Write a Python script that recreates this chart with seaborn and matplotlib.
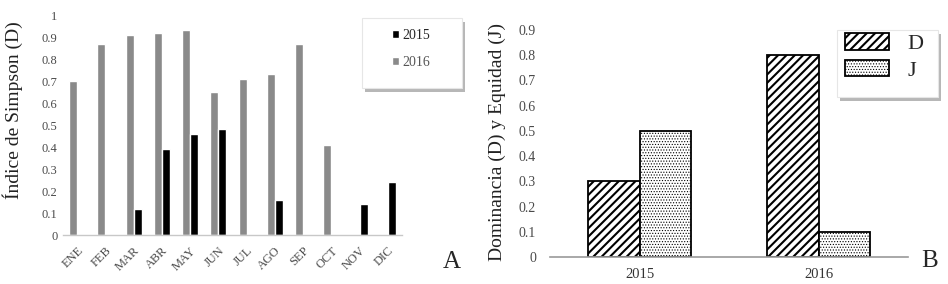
import matplotlib
matplotlib.use("Agg")
import matplotlib.pyplot as plt
import matplotlib.patheffects as pe
from matplotlib.patches import Rectangle, Patch
import numpy as np
import pandas as pd
import seaborn as sns

# datos panel A: indice de Simpson por mes
meses = ["ENE", "FEB", "MAR", "ABR", "MAY", "JUN", "JUL", "AGO", "SEP", "OCT", "NOV", "DIC"]
simpson_2015 = [0, 0, 0.12, 0.39, 0.46, 0.48, 0, 0.16, 0, 0, 0.14, 0.24]
simpson_2016 = [0.70, 0.87, 0.91, 0.92, 0.93, 0.65, 0.71, 0.73, 0.87, 0.41, 0, 0]
anios_a = ["2015", "2016"]
yticks_a = [0, 0.1, 0.2, 0.3, 0.4, 0.5, 0.6, 0.7, 0.8, 0.9, 1]

# datos panel B: dominancia y equidad por anio
anios_b = ["2015", "2016"]
dominancia = [0.30, 0.80]
equidad = [0.50, 0.10]
yticks_b = [0, 0.1, 0.2, 0.3, 0.4, 0.5, 0.6, 0.7, 0.8, 0.9]

sns.set_style("white")
plt.rcParams["font.family"] = ["Liberation Serif", "DejaVu Serif"]
plt.rcParams["hatch.linewidth"] = 1.0

gris = "#8a8a8a"
tick_col = "#4a4a4a"
tramas = {"D": "////", "J": "......"}
grosor_trama = {"D": 1.5, "J": 0.5}


def poner_trama(p, ind):
    p.set_hatch(tramas[ind])
    if hasattr(p, "set_hatch_linewidth"):
        p.set_hatch_linewidth(grosor_trama[ind])
    else:
        p._hatch_linewidth = grosor_trama[ind]


df_a = pd.DataFrame({
    "mes": meses * 2,
    "anio": ["2015"] * 12 + ["2016"] * 12,
    "valor": simpson_2015 + simpson_2016,
})
df_b = pd.DataFrame({
    "anio": anios_b * 2,
    "indice": ["D"] * 2 + ["J"] * 2,
    "valor": dominancia + equidad,
})

fig = plt.figure(figsize=(9.48, 2.84), dpi=100)

# ---- panel A ----
axA = fig.add_axes([63 / 948, 49 / 284, 339 / 948, 220 / 284])
sns.barplot(data=df_a, x="mes", y="valor", hue="anio", hue_order=["2016", "2015"],
            palette={"2015": "black", "2016": gris}, width=0.56, saturation=1,
            errorbar=None, legend=False, ax=axA)
axA.set_ylim(0, 1)
axA.set_xlim(-0.5, 11.5)
axA.set_yticks(yticks_a)
axA.set_yticklabels([f"{t:g}" for t in yticks_a])
axA.tick_params(axis="y", length=0, pad=4, labelsize=9, labelcolor=tick_col)
axA.tick_params(axis="x", length=0, pad=7, labelsize=9, labelcolor=tick_col)
for lab in axA.get_xticklabels():
    lab.set_rotation(45)
    lab.set_ha("right")
    lab.set_va("top")
    lab.set_rotation_mode("anchor")
for s in ["left", "right", "top"]:
    axA.spines[s].set_visible(False)
axA.spines["bottom"].set_color("#c8c8c8")
axA.spines["bottom"].set_linewidth(1)
axA.set_xlabel("")
axA.set_ylabel("Índice de Simpson (D)", fontsize=14, color="#222222")
axA.yaxis.set_label_coords(-0.147, 0.568)
axA.yaxis.label.set_va("center")

# ---- panel B ----
axB = fig.add_axes([550 / 948, 27 / 284, 358 / 948, 227 / 284])
sns.barplot(data=df_b, x="anio", y="valor", hue="indice",
            palette={"D": "white", "J": "white"}, width=0.575, saturation=1,
            edgecolor="black", linewidth=1.3, errorbar=None, legend=False, ax=axB)
for cont, ind in zip(axB.containers, ["D", "J"]):
    for barra in cont:
        poner_trama(barra, ind)
axB.set_ylim(0, 0.9)
axB.set_xlim(-0.5, 1.5)
axB.set_yticks(yticks_b)
axB.set_yticklabels([f"{t:g}" for t in yticks_b])
axB.tick_params(axis="y", length=0, pad=10, labelsize=10, labelcolor=tick_col)
axB.tick_params(axis="x", length=0, pad=8, labelsize=10.5, labelcolor="#333333")
for s in ["left", "right", "top"]:
    axB.spines[s].set_visible(False)
axB.spines["bottom"].set_color("#9a9a9a")
axB.spines["bottom"].set_linewidth(1.2)
axB.set_xlabel("")
axB.set_ylabel("Dominancia (D) y Equidad (J)", fontsize=14, color="#222222")
axB.yaxis.set_label_coords(-0.148, 0.507)
axB.yaxis.label.set_va("center")

# ---- cajas de leyenda con sombra ----
sombra = [pe.SimplePatchShadow(offset=(2, -3), shadow_rgbFace="#888888", alpha=0.6), pe.Normal()]
for (x0, y0, w, h) in [(362, 18, 100, 70), (837, 30, 101, 67)]:
    r = Rectangle((x0 / 948, 1 - (y0 + h) / 284), w / 948, h / 284,
                  transform=fig.transFigure, facecolor="white", edgecolor="#e6e6e6",
                  linewidth=0.8, zorder=5)
    r.set_path_effects(sombra)
    fig.patches.append(r)

hA = [Patch(facecolor="black"), Patch(facecolor=gris)]
legA = fig.legend(hA, anios_a, loc="center", bbox_to_anchor=(411 / 948, 1 - 49 / 284),
                  frameon=False, fontsize=10, handlelength=0.5, handleheight=0.5,
                  handletextpad=0.2, labelspacing=1.0)
legA.set_zorder(6)
legA.get_texts()[1].set_color("#555555")

hB = []
for ind in ["D", "J"]:
    p = Patch(facecolor="white", edgecolor="black", linewidth=1.3)
    poner_trama(p, ind)
    hB.append(p)
legB = fig.legend(hB, ["D", "J"], loc="center", bbox_to_anchor=(884 / 948, 1 - 57 / 284),
                  frameon=False, fontsize=16, handlelength=2.0, handleheight=0.75,
                  handletextpad=0.8, labelspacing=0.25)
legB.set_zorder(6)
for p, ind in zip(legB.get_patches(), ["D", "J"]):
    poner_trama(p, ind)

fig.text(452 / 948, 1 - 262 / 284, "A", fontsize=18, ha="center", va="center")
fig.text(930 / 948, 1 - 261 / 284, "B", fontsize=18, ha="center", va="center")

fig.savefig("out.png", dpi=100)
